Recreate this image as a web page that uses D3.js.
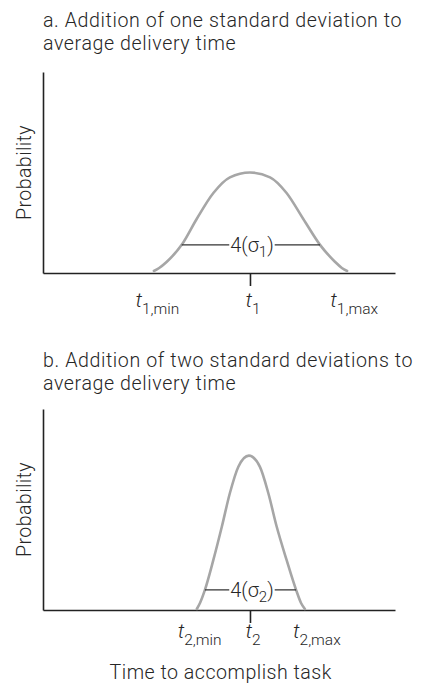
<!DOCTYPE html>
<html>
<head>
<meta charset="utf-8">
<script src="https://cdn.jsdelivr.net/npm/d3@7"></script>
<style>
body{margin:0;background:#fff;}
svg text{font-family:Roboto,"Open Sans",sans-serif;font-weight:300;fill:#262626;}
</style>
</head>
<body>
<div id="graph"></div>
<script>
// text
var titleA = ['a. Addition of one standard deviation to', 'average delivery time'];
var titleB = ['b. Addition of two standard deviations to', 'average delivery time'];
var yLabel = 'Probability';
var xLabel = 'Time to accomplish task';

// curves (time units 0-100, relative probability 0-1)
var curveATime = [31.5, 33.0, 35.1, 39.4, 43.7, 48.4, 53.1, 58.8, 64.5, 69.2, 73.9, 78.7, 83.0, 84.9, 86.4];
var curveAProb = [0.01, 0.025, 0.055, 0.14, 0.27, 0.398, 0.476, 0.5, 0.476, 0.398, 0.27, 0.14, 0.055, 0.025, 0.01];
var curveBTime = [43.7, 44.6, 46.0, 48.4, 50.8, 53.1, 55.5, 58.5, 61.6, 64.0, 66.4, 69.2, 71.9, 73.3, 74.4];
var curveBProb = [0.005, 0.035, 0.1, 0.249, 0.414, 0.582, 0.713, 0.768, 0.713, 0.582, 0.414, 0.249, 0.1, 0.035, 0.005];

// tick labels
var meanTime = 58.8;
var tickSubsA = ['1,min', '1', '1,max'];
var tickSubsB = ['2,min', '2', '2,max'];
var labelTimesA = [32.5, 59.7, 88.4];
var labelTimesB = [44.5, 59.7, 77.8];

// 4 sigma brackets
var bracketTimesA = [39.4, 78.7];
var bracketTimesB = [46.0, 71.9];
var bracketProbs = [0.14, 0.1];
var sigmaSubs = ['1', '2'];

var width = 428, height = 685, vis;
var fontSize = 19.6;

var xScale = d3.scaleLinear().domain([0, 100]).range([43, 395]);

var drawPanel = function(p){
  var yScale = d3.scaleLinear().domain([0, 1]).range([p.bottom, p.bottom - 201]);
  var g = vis.append('g');

  // title, one text wrapped on two lines
  g.append('text')
    .attr('class', 'title')
    .attr('y', p.titleY)
    .style('font-size', fontSize+'px')
    .style('letter-spacing', '0.6px')
    .selectAll('tspan').data(p.title).enter()
    .append('tspan')
    .attr('x', 43)
    .attr('dy', function(d, i){return i ? 23 : 0})
    .text(function(d){return d});

  // axes
  var xAxis = d3.axisBottom(xScale).tickValues([meanTime]).tickFormat('').tickSize(13).tickSizeOuter(0);
  var yAxis = d3.axisLeft(yScale).tickValues([]).tickSizeOuter(0);
  g.append('g')
    .attr('transform', 'translate(0,'+p.bottom+')')
    .call(xAxis);
  g.append('g')
    .attr('transform', 'translate(43,0)')
    .call(yAxis);
  g.selectAll('.domain, .tick line').attr('stroke', '#222').attr('stroke-width', 1.6);

  // y label
  g.append('text')
    .attr('transform', 'translate(31,'+yScale(0.5)+') rotate(-90)')
    .attr('text-anchor', 'middle')
    .style('font-size', fontSize+'px')
    .style('letter-spacing', '0.4px')
    .text(yLabel);

  // curve
  var pts = p.time.map(function(t, i){return [t, p.prob[i]]});
  var line = d3.line()
    .x(function(d){return xScale(d[0])})
    .y(function(d){return yScale(d[1])})
    .curve(d3.curveMonotoneX);
  g.append('path')
    .datum(pts)
    .attr('d', line)
    .attr('fill', 'none')
    .attr('stroke', '#a6a6a6')
    .attr('stroke-width', 2.6)
    .attr('stroke-linecap', 'round');

  // bracket
  var by = yScale(p.bracketProb);
  g.append('line')
    .attr('x1', xScale(p.bracket[0])).attr('x2', xScale(p.bracket[1]))
    .attr('y1', by).attr('y2', by)
    .attr('stroke', '#333').attr('stroke-width', 1.1);
  var bl = g.append('text')
    .attr('x', xScale(meanTime) + 2)
    .attr('y', by + 7)
    .attr('text-anchor', 'middle')
    .style('font-size', '20px');
  bl.append('tspan').text('4(σ');
  bl.append('tspan').attr('dy', 5).style('font-size', '15px').text(p.sigma);
  bl.append('tspan').attr('dy', -5).text(')');
  var bb = bl.node().getBBox();
  g.insert('rect', function(){return bl.node()})
    .attr('x', bb.x - 1).attr('y', by - 3)
    .attr('width', bb.width + 2).attr('height', 6)
    .attr('fill', '#fff');

  // tick labels
  var tl = g.selectAll('text.tl').data(p.labelTimes).enter()
    .append('text')
    .attr('class', 'tl')
    .attr('x', function(d){return xScale(d)})
    .attr('y', p.labelY)
    .attr('text-anchor', 'middle');
  tl.append('tspan').style('font-style', 'italic').style('font-size', '21px').text('t');
  tl.append('tspan').attr('dy', 7).style('font-size', '15.5px').text(function(d, i){return p.subs[i]});
};

var initChart = function(){
  vis = d3.select('#graph').append('svg')
    .attr('width', width).attr('height', height);

  drawPanel({title: titleA, titleY: 27, bottom: 273, time: curveATime, prob: curveAProb,
    bracket: bracketTimesA, bracketProb: bracketProbs[0], sigma: sigmaSubs[0],
    labelTimes: labelTimesA, subs: tickSubsA, labelY: 307});
  drawPanel({title: titleB, titleY: 367, bottom: 610, time: curveBTime, prob: curveBProb,
    bracket: bracketTimesB, bracketProb: bracketProbs[1], sigma: sigmaSubs[1],
    labelTimes: labelTimesB, subs: tickSubsB, labelY: 638});

  vis.append('text')
    .attr('x', xScale(50.5))
    .attr('y', 679)
    .attr('text-anchor', 'middle')
    .style('font-size', fontSize+'px')
    .style('letter-spacing', '0.5px')
    .text(xLabel);
};

window.onload = function(){
  initChart();
};
</script>
</body>
</html>
